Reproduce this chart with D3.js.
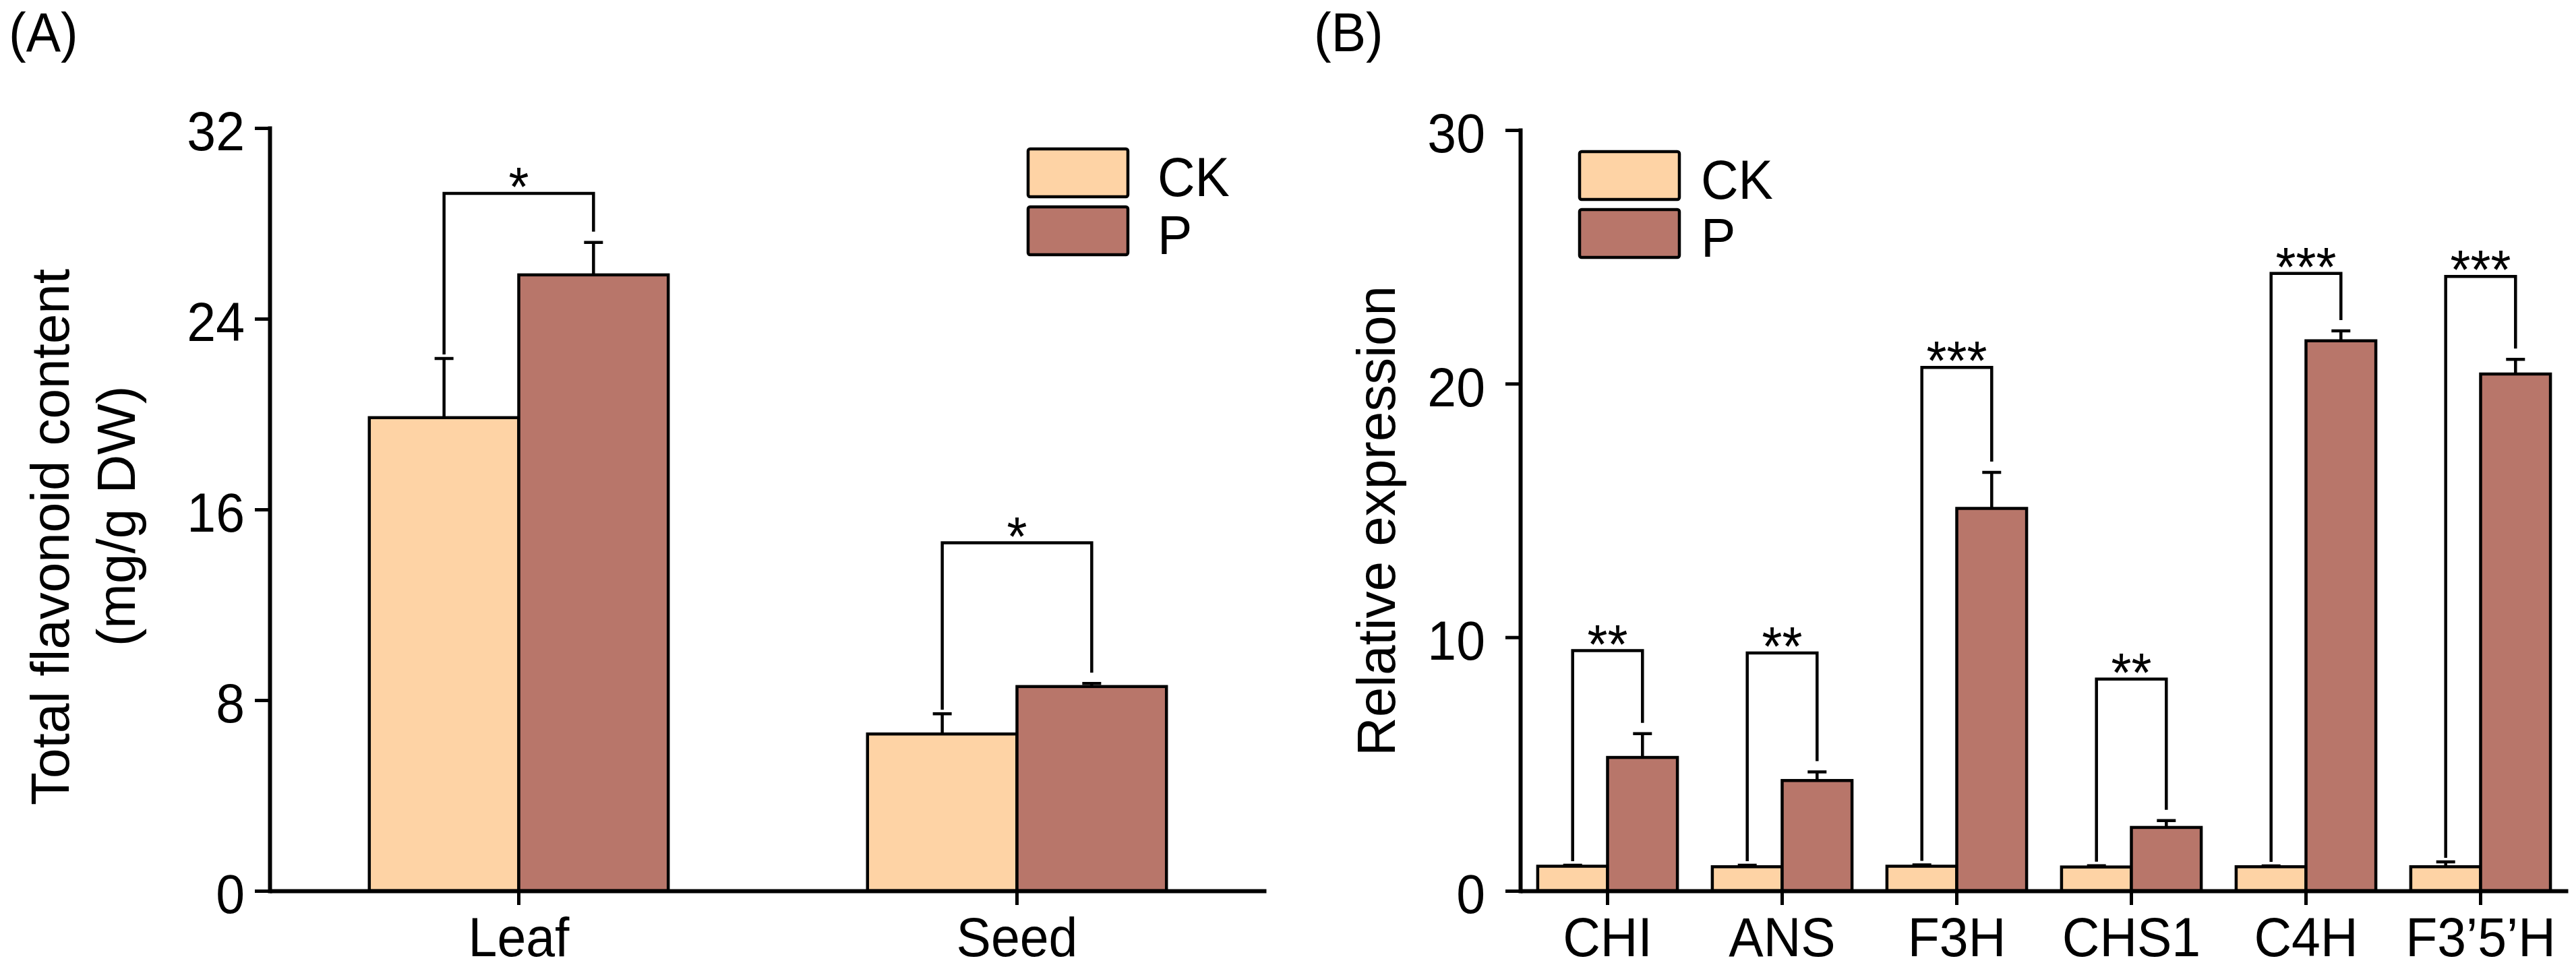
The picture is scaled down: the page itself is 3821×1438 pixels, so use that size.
<!DOCTYPE html>
<html>
<head>
<meta charset="utf-8">
<script src="https://cdn.jsdelivr.net/npm/d3@7"></script>
<style>
  body { margin: 0; background: #fff; }
  text { font-family: "Liberation Sans", Arial, Helvetica, sans-serif; fill: #000; }
</style>
</head>
<body>
<svg id="chart" width="3821" height="1438"></svg>
<script>
// ---------------- DATA ----------------
const seriesNames = ["CK", "P"];
const seriesColors = ["#FED3A5", "#B8766A"];

// (A) total flavonoid content
const tissues = ["Leaf", "Seed"];
const flavCK = [19.85, 6.58];
const flavCKErr = [2.48, 0.85];
const flavP = [25.84, 8.57];
const flavPErr = [1.36, 0.13];
const flavSig = ["*", "*"];
const flavBracket = [29.26, 14.6];
const flavTicks = [0, 8, 16, 24, 32];

// (B) relative expression
const genes = ["CHI", "ANS", "F3H", "CHS1", "C4H", "F3\u20195\u2019H"];
const exprCK = [0.97, 0.95, 0.97, 0.94, 0.95, 0.95];
const exprCKErr = [0.04, 0.06, 0.05, 0.05, 0.03, 0.19];
const exprP = [5.26, 4.35, 15.08, 2.5, 21.69, 20.38];
const exprPErr = [0.94, 0.34, 1.42, 0.27, 0.39, 0.58];
const exprSig = ["**", "**", "***", "**", "***", "***"];
const exprBracket = [9.47, 9.38, 20.64, 8.35, 24.35, 24.23];
const exprTicks = [0, 10, 20, 30];

// ---------------- SETUP ----------------
const svg = d3.select("#chart");
const SY = 1.07;        // the figure's lettering is a bit stretched vertically
const FS = 77;          // horizontal text size
const LINE = 4.5;       // bar / bracket stroke

function drawPanel(p) {
  const g = svg.append("g");

  const x = d3.scaleBand()
    .domain(p.cats)
    .range([p.left, p.right])
    .paddingInner(p.padIn)
    .paddingOuter(p.padOut);

  const xs = d3.scaleBand()
    .domain(seriesNames)
    .range([0, x.bandwidth()]);

  const y = d3.scaleLinear()
    .domain([0, p.max])
    .range([p.bottom, p.top]);

  const bars = p.cats.flatMap((c, i) => [
    { cat: c, s: "CK", v: p.ck[i], e: p.ckErr[i] },
    { cat: c, s: "P",  v: p.pv[i], e: p.pErr[i] }
  ]);
  const cx = d => x(d.cat) + xs(d.s) + xs.bandwidth() / 2;

  // bars
  g.selectAll(".bar")
    .data(bars)
    .enter()
    .append("rect")
      .attr("x", d => x(d.cat) + xs(d.s))
      .attr("y", d => y(d.v))
      .attr("width", xs.bandwidth())
      .attr("height", d => y(0) - y(d.v))
      .attr("fill", d => seriesColors[seriesNames.indexOf(d.s)])
      .attr("stroke", "#000")
      .attr("stroke-width", LINE);

  // error bars (upper half only)
  g.selectAll(".err")
    .data(bars)
    .enter()
    .append("path")
      .attr("d", d => `M${cx(d)},${y(d.v)}V${y(d.v + d.e)}M${cx(d) - 14},${y(d.v + d.e)}H${cx(d) + 14}`)
      .attr("fill", "none")
      .attr("stroke", "#000")
      .attr("stroke-width", LINE);

  // significance brackets
  p.cats.forEach((c, i) => {
    const xl = x(c) + xs("CK") + xs.bandwidth() / 2;
    const xr = x(c) + xs("P") + xs.bandwidth() / 2;
    const yb = y(p.bracket[i]);
    const yl = y(p.ck[i] + p.ckErr[i]) - 6;
    const yr = y(p.pv[i] + p.pErr[i]) - 16;

    g.append("path")
      .attr("d", `M${xl},${yl}V${yb}H${xr}V${yr}`)
      .attr("fill", "none")
      .attr("stroke", "#000")
      .attr("stroke-width", LINE);

    g.append("text")
      .attr("transform", `translate(${(xl + xr) / 2},${yb + 18}) scale(1,${SY})`)
      .attr("text-anchor", "middle")
      .style("font-size", FS + "px")
      .text(p.sig[i]);
  });

  // y axis
  const ya = g.append("g")
    .attr("transform", `translate(${p.left},0)`)
    .call(d3.axisLeft(y).tickValues(p.ticks).tickSize(22).tickPadding(p.tickPad).tickSizeOuter(0));
  ya.select(".domain").attr("stroke-width", 6).attr("stroke-linecap", "square");
  ya.selectAll(".tick line").attr("stroke-width", 5);
  ya.selectAll(".tick text")
    .attr("dy", "0.4em")
    .attr("transform", `scale(1,${SY})`)
    .style("font-size", FS + "px")
    .style("font-family", "'Liberation Sans', Arial, sans-serif");

  // x axis
  const xa = g.append("g")
    .attr("transform", `translate(0,${p.bottom})`)
    .call(d3.axisBottom(x).tickSize(21).tickSizeOuter(0));
  xa.select(".domain").attr("stroke-width", 6);
  xa.selectAll(".tick line").attr("stroke-width", 5);
  xa.selectAll(".tick text")
    .attr("y", 0)
    .attr("dy", null)
    .attr("transform", `translate(0,${p.labelOff}) scale(1,${SY})`)
    .style("font-size", FS + "px")
    .style("font-family", "'Liberation Sans', Arial, sans-serif");

  // y axis title (rotated)
  p.ytitle.forEach(t => {
    g.append("text")
      .attr("transform", `translate(${t.x},${t.cy}) rotate(-90)`)
      .attr("text-anchor", "middle")
      .style("font-size", "80px")
      .text(t.text);
  });

  // legend
  seriesNames.forEach((s, j) => {
    const ly = p.legend.y + j * 86;
    g.append("rect")
      .attr("x", p.legend.x)
      .attr("y", ly)
      .attr("width", 148)
      .attr("height", 71)
      .attr("rx", 3)
      .attr("fill", seriesColors[j])
      .attr("stroke", "#000")
      .attr("stroke-width", LINE);
    g.append("text")
      .attr("transform", `translate(${p.legend.textX},${ly + 70}) scale(1,${SY})`)
      .style("font-size", FS + "px")
      .text(s);
  });

  // panel letter
  g.append("text")
    .attr("transform", `translate(${p.letterX},76) scale(1,${SY})`)
    .style("font-size", FS + "px")
    .text(p.letter);
}

drawPanel({
  cats: tissues, ck: flavCK, ckErr: flavCKErr, pv: flavP, pErr: flavPErr,
  sig: flavSig, bracket: flavBracket, ticks: flavTicks, max: 32,
  left: 400, right: 1878, top: 190, bottom: 1322,
  padIn: 0.4, padOut: 0.2, tickPad: 15, labelOff: 97,
  ytitle: [
    { text: "Total flavonoid content", x: 102, cy: 797 },
    { text: "(mg/g DW)", x: 200, cy: 766 }
  ],
  legend: { x: 1525, y: 221, textX: 1717 },
  letter: "(A)", letterX: 13
});

drawPanel({
  cats: genes, ck: exprCK, ckErr: exprCKErr, pv: exprP, pErr: exprPErr,
  sig: exprSig, bracket: exprBracket, ticks: exprTicks, max: 30,
  left: 2255, right: 3809, top: 193, bottom: 1322,
  padIn: 0.2, padOut: 0.1, tickPad: 30, labelOff: 97,
  ytitle: [
    { text: "Relative expression", x: 2069, cy: 773 }
  ],
  legend: { x: 2343, y: 225, textX: 2523 },
  letter: "(B)", letterX: 1949
});
</script>
</body>
</html>
